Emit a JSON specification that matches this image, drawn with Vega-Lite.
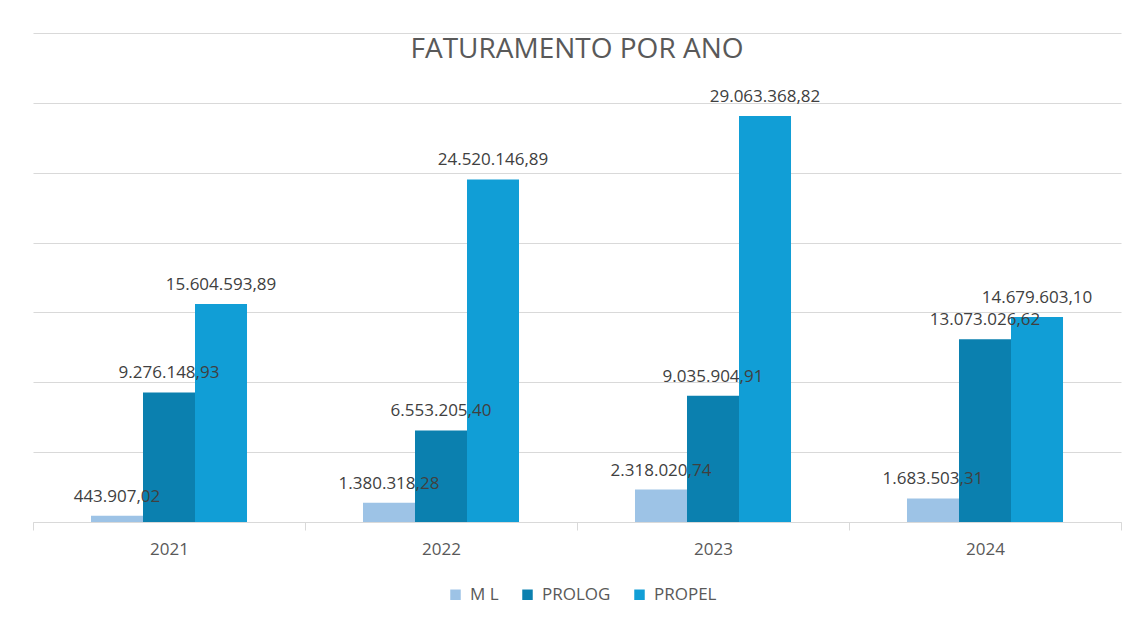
{
  "$schema": "https://vega.github.io/schema/vega-lite/v6.json",
  "width": 1088,
  "height": 489,
  "autosize": {"type": "none"},
  "padding": {"left": 33, "top": 33, "right": 17, "bottom": 104},
  "background": "white",
  "config": {"view": {"stroke": null}},
  "title": {
    "text": "FATURAMENTO POR ANO",
    "fontSize": 28,
    "font": "Open Sans",
    "fontWeight": "normal",
    "color": "#595959",
    "anchor": "middle",
    "offset": 0,
    "baseline": "alphabetic",
    "dy": 53
  },
  "data": {
    "values": [
      {"ano": "2021", "empresa": "M L", "valor": 443907.02, "rotulo": "443.907,02"},
      {"ano": "2021", "empresa": "PROLOG", "valor": 9276148.93, "rotulo": "9.276.148,93"},
      {"ano": "2021", "empresa": "PROPEL", "valor": 15604593.89, "rotulo": "15.604.593,89"},
      {"ano": "2022", "empresa": "M L", "valor": 1380318.28, "rotulo": "1.380.318,28"},
      {"ano": "2022", "empresa": "PROLOG", "valor": 6553205.40, "rotulo": "6.553.205,40"},
      {"ano": "2022", "empresa": "PROPEL", "valor": 24520146.89, "rotulo": "24.520.146,89"},
      {"ano": "2023", "empresa": "M L", "valor": 2318020.74, "rotulo": "2.318.020,74"},
      {"ano": "2023", "empresa": "PROLOG", "valor": 9035904.91, "rotulo": "9.035.904,91"},
      {"ano": "2023", "empresa": "PROPEL", "valor": 29063368.82, "rotulo": "29.063.368,82"},
      {"ano": "2024", "empresa": "M L", "valor": 1683503.31, "rotulo": "1.683.503,31"},
      {"ano": "2024", "empresa": "PROLOG", "valor": 13073026.62, "rotulo": "13.073.026,62"},
      {"ano": "2024", "empresa": "PROPEL", "valor": 14679603.10, "rotulo": "14.679.603,10"}
    ]
  },
  "encoding": {
    "x": {
      "field": "ano",
      "type": "nominal",
      "title": null,
      "scale": {"paddingInner": 0, "paddingOuter": 0},
      "axis": {
        "labelAngle": 0,
        "labelFont": "Open Sans",
        "labelFontSize": 17,
        "labelColor": "#595959",
        "labelPadding": 11,
        "domainColor": "#d9d9d9",
        "tickColor": "#d9d9d9",
        "tickSize": 8,
        "tickBand": "extent",
        "grid": false
      }
    },
    "xOffset": {
      "field": "empresa",
      "type": "nominal",
      "scale": {"domain": ["_antes", "M L", "PROLOG", "PROPEL", "_depois"], "paddingInner": 0, "paddingOuter": 0.115}
    },
    "y": {
      "field": "valor",
      "type": "quantitative",
      "title": null,
      "scale": {"domain": [0, 35000000], "nice": false},
      "axis": {
        "values": [0, 5000000, 10000000, 15000000, 20000000, 25000000, 30000000, 35000000],
        "labels": false,
        "ticks": false,
        "domain": false,
        "grid": true,
        "gridColor": "#d9d9d9",
        "gridWidth": 1
      }
    }
  },
  "layer": [
    {
      "mark": {"type": "bar"},
      "encoding": {
        "color": {
          "field": "empresa",
          "type": "nominal",
          "scale": {"domain": ["M L", "PROLOG", "PROPEL"], "range": ["#9DC3E6", "#0B80AF", "#119ED6"]},
          "legend": {
            "title": null,
            "orient": "none",
            "legendX": 414,
            "legendY": 553,
            "direction": "horizontal",
            "symbolType": "square",
            "symbolSize": 110,
            "symbolStrokeWidth": 0,
            "labelFont": "Open Sans",
            "labelFontSize": 17,
            "labelColor": "#595959",
            "labelOffset": 6,
            "columnPadding": 20
          }
        }
      }
    },
    {
      "mark": {
        "type": "text",
        "font": "Open Sans",
        "fontSize": 17,
        "color": "#404040",
        "baseline": "alphabetic",
        "dy": -14
      },
      "encoding": {
        "text": {"field": "rotulo"}
      }
    }
  ]
}
